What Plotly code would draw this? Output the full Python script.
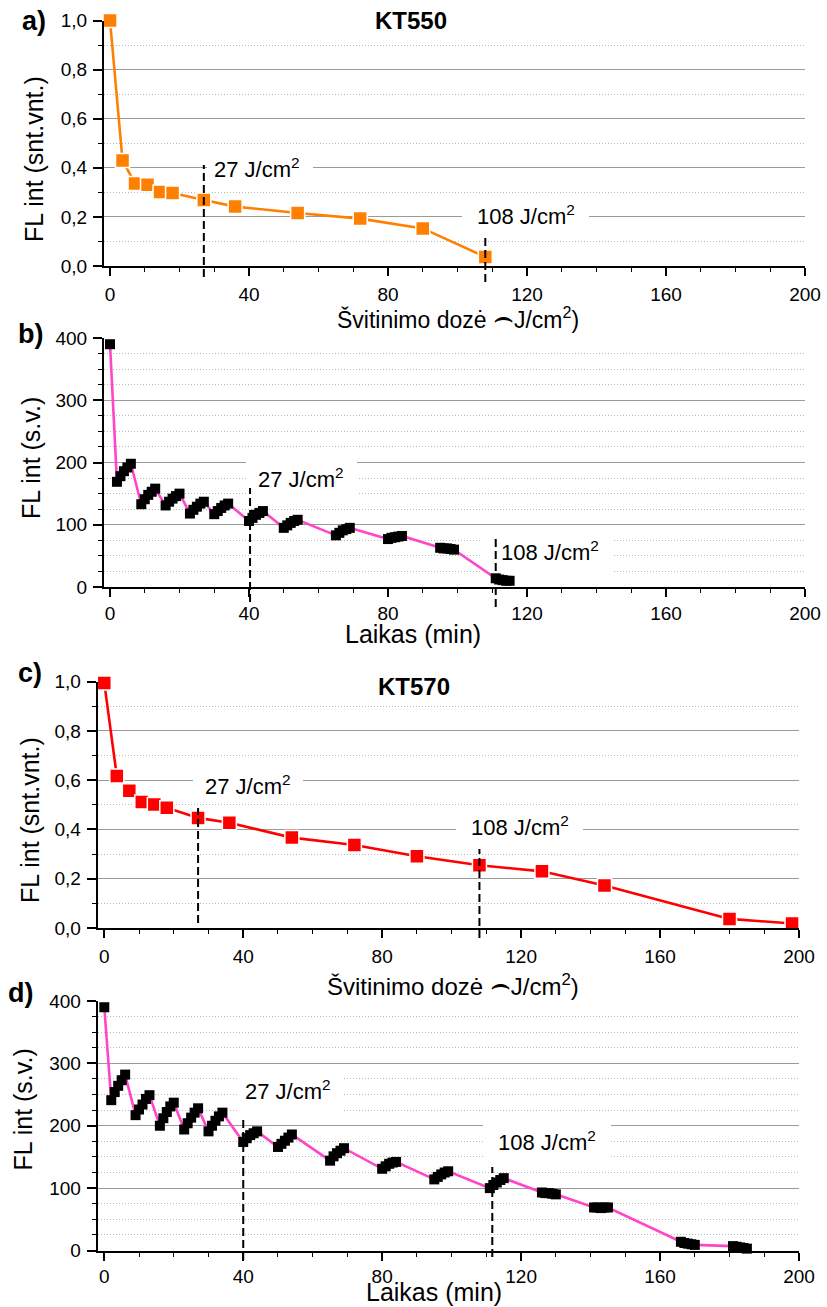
import plotly.graph_objects as go

W, H = 827, 1307

# ---------------- data ----------------
dose_a = [0, 3.6, 7.2, 10.8, 14.4, 18, 27, 36, 54, 72, 90, 108]
fl_a = [1.0, 0.43, 0.336, 0.331, 0.301, 0.297, 0.269, 0.242, 0.216, 0.193, 0.153, 0.037]

time_b = [0,
          2, 3, 4, 5, 6,
          9, 10, 11, 12, 13,
          16, 17, 18, 19, 20,
          23, 24, 25, 26, 27,
          30, 31, 32, 33, 34,
          40, 41, 42, 43, 44,
          50, 51, 52, 53, 54,
          65, 66, 67, 68, 69,
          80, 81, 82, 83, 84,
          95, 96, 97, 98, 99,
          111, 112, 113, 114, 115]
fl_b = [390,
        169, 178, 186, 192, 198,
        133, 141, 148, 153, 158,
        131, 137, 142, 146, 150,
        118, 124, 129, 134, 137,
        117, 122, 127, 131, 134,
        106, 111, 116, 119, 122,
        95, 99, 103, 106, 108,
        83, 87, 91, 93, 95,
        77, 79, 80, 81, 82,
        63, 62, 62, 61, 60,
        14, 12, 11, 10, 10]

dose_c = [0, 3.6, 7.2, 10.8, 14.4, 18, 27, 36, 54, 72, 90, 108, 126, 144, 180, 198]
fl_c = [0.995, 0.617, 0.557, 0.512, 0.501, 0.488, 0.447, 0.427, 0.367, 0.337,
        0.291, 0.255, 0.230, 0.173, 0.037, 0.018]

time_d = [0,
          2, 3, 4, 5, 6,
          9, 10, 11, 12, 13,
          16, 17, 18, 19, 20,
          23, 24, 25, 26, 27,
          30, 31, 32, 33, 34,
          40, 41, 42, 43, 44,
          50, 51, 52, 53, 54,
          65, 66, 67, 68, 69,
          80, 81, 82, 83, 84,
          95, 96, 97, 98, 99,
          111, 112, 113, 114, 115,
          126, 127, 128, 129, 130,
          141, 142, 143, 144, 145,
          166, 167, 168, 169, 170,
          181, 182, 183, 184, 185]
fl_d = [390,
        241, 254, 264, 273, 282,
        217, 226, 234, 243, 249,
        200, 212, 222, 231, 237,
        194, 204, 213, 221, 228,
        191, 200, 208, 215, 221,
        174, 180, 185, 188, 191,
        166, 171, 176, 181, 186,
        144, 151, 156, 160, 164,
        131, 135, 139, 141, 142,
        114, 118, 122, 125, 127,
        100, 105, 109, 113, 116,
        93, 92, 92, 91, 90,
        69, 69, 68, 69, 69,
        14, 12, 11, 10, 9,
        7, 6, 5, 4, 3]

dose_marks = [27, 108]
time_marks_b = [40.3, 111]
time_marks_d = [40, 111.7]
dose_labels = ["27 J/cm<sup>2</sup>", "108 J/cm<sup>2</sup>"]

x_tick_vals = [0, 40, 80, 120, 160, 200]

FONT = "Liberation Sans, Arial, sans-serif"
ORANGE = "#FF8000"
RED = "#FF0000"
PINK = "#FF45C8"
GRID = "#9a9a9a"
MINOR_GRID = "#b8b8b8"

# panel geometry in pixels (left, right, top, bottom) and ranges
panels = [
    dict(key="", x0=104, x1=805, y0=20.5, y1=266, xr=[-1.73, 200], yr=[0, 1.0], frac=True, xso=2),
    dict(key="2", x0=104, x1=805, y0=338, y1=587, xr=[-1.73, 200], yr=[0, 400], frac=False, xso=0),
    dict(key="3", x0=97.7, x1=799, y0=681.7, y1=928, xr=[-1.9, 200], yr=[0, 1.0], frac=True, xso=2),
    dict(key="4", x0=97.7, x1=799, y0=1001, y1=1250.5, xr=[-1.9, 200], yr=[0, 400], frac=False, xso=0),
]


def px2x(p, px):
    return p["xr"][0] + (px - p["x0"]) / (p["x1"] - p["x0"]) * (p["xr"][1] - p["xr"][0])


def px2y(p, py):
    return p["yr"][0] + (p["y1"] - py) / (p["y1"] - p["y0"]) * (p["yr"][1] - p["yr"][0])


fig = go.Figure()

# traces
series = [
    (dose_a, fl_a, ORANGE, ORANGE, 14, 1.5, "white"),
    (time_b, fl_b, PINK, "black", 10, 0, "black"),
    (dose_c, fl_c, RED, RED, 14, 1.5, "white"),
    (time_d, fl_d, PINK, "black", 10, 0, "black"),
]
for p, (xs, ys, lc, mc, ms, mlw, mlc) in zip(panels, series):
    fig.add_trace(go.Scatter(
        x=xs, y=ys, mode="lines+markers",
        line=dict(color=lc, width=2.6),
        marker=dict(symbol="square", size=ms, color=mc, line=dict(color=mlc, width=mlw)),
        xaxis="x" + p["key"], yaxis="y" + p["key"], cliponaxis=False, showlegend=False,
    ))

layout_axes = {}
for p in panels:
    k = p["key"]
    xa = dict(
        domain=[p["x0"] / W, p["x1"] / W], range=p["xr"], anchor="y" + k,
        showline=True, linecolor="black", linewidth=2, mirror=False,
        ticks="outside", ticklen=8, tickwidth=1.6, tickcolor="black",
        tickvals=x_tick_vals, showgrid=False, zeroline=False,
        ticklabelstandoff=p["xso"],
        tickfont=dict(family=FONT, size=19, color="black"),
        minor=dict(dtick=10, tick0=0, ticks="outside", ticklen=4, tickwidth=1.4,
                   tickcolor="black", showgrid=False),
    )
    if p["frac"]:
        dt, mdt, fmt = 0.2, 0.1, ".1f"
    else:
        dt, mdt, fmt = 100, 25, "d"
    ya = dict(
        domain=[1 - p["y1"] / H, 1 - p["y0"] / H], range=p["yr"], anchor="x" + k,
        showline=True, linecolor="black", linewidth=2, mirror=False,
        ticks="outside", ticklen=9, tickwidth=1.6, tickcolor="black",
        dtick=dt, tick0=0, tickformat=fmt, zeroline=False,
        showgrid=True, gridcolor=GRID, gridwidth=1,
        ticklabelstandoff=2,
        tickfont=dict(family=FONT, size=19, color="black"),
        minor=dict(dtick=mdt, tick0=0, ticks="outside", ticklen=4, tickwidth=1.4,
                   tickcolor="black", showgrid=True, gridcolor=MINOR_GRID,
                   griddash="1px,2px", gridwidth=1),
    )
    layout_axes["xaxis" + k] = xa
    layout_axes["yaxis" + k] = ya

shapes = []
annotations = []


def gap_box(p, xl, xr_, yt, yb):
    k = p["key"]
    shapes.append(dict(type="rect", xref="x" + k, yref="y" + k, layer="between",
                       x0=px2x(p, xl), x1=px2x(p, xr_), y0=px2y(p, yb), y1=px2y(p, yt),
                       fillcolor="white", line=dict(width=0)))


def vdash(p, xval, yt, yb):
    k = p["key"]
    shapes.append(dict(type="line", xref="x" + k, yref="paper", layer="above",
                       x0=xval, x1=xval, y0=1 - yb / H, y1=1 - yt / H,
                       line=dict(color="black", width=2, dash="8px,4px")))


def text(px, py, s, size, bold=False, angle=0, yanchor="middle"):
    annotations.append(dict(
        xref="paper", yref="paper", x=px / W, y=1 - py / H, text=("<b>%s</b>" % s) if bold else s,
        showarrow=False, xanchor="center", yanchor=yanchor, textangle=angle,
        font=dict(family=FONT, size=size, color="black")))


pa, pb, pc, pd = panels

# gaps in gridlines behind labels
gap_box(pa, 365, 458, 8, 34)
gap_box(pa, 207, 313, 155, 185)
gap_box(pa, 462, 589, 204, 232)
gap_box(pb, 246, 357, 455, 503)
gap_box(pb, 480, 612, 530, 577)
gap_box(pc, 368, 462, 670, 700)
gap_box(pc, 193, 303, 766, 803)
gap_box(pc, 456, 583, 810, 848)
gap_box(pd, 237, 342, 1066, 1116)
gap_box(pd, 483, 611, 1118, 1166)

# dashed dose markers
vdash(pa, dose_marks[0], 165, 277)
vdash(pa, dose_marks[1], 237, 282)
vdash(pb, time_marks_b[0], 488, 602)
vdash(pb, time_marks_b[1], 538, 607)
vdash(pc, dose_marks[0], 808, 923)
vdash(pc, dose_marks[1], 849, 938)
vdash(pd, time_marks_d[0], 1119, 1260)
vdash(pd, time_marks_d[1], 1167, 1257)

# dose labels (sup makes block taller -> shift up a little)
SUP = 2
text(257, 170 - SUP, dose_labels[0], 22)
text(526, 217 - SUP, dose_labels[1], 22)
text(301, 480 - SUP, dose_labels[0], 22)
text(550, 553 - SUP, dose_labels[1], 22)
text(248.5, 787 - SUP, dose_labels[0], 22)
text(520, 828 - SUP, dose_labels[1], 22)
text(287.5, 1092 - SUP, dose_labels[0], 22)
text(547, 1143 - SUP, dose_labels[1], 22)

# series names
text(411, 21, "KT550", 24, bold=True)
text(414, 686, "KT570", 24, bold=True)

# panel letters
text(34, 21, "a)", 27, bold=True)
text(30, 334, "b)", 27, bold=True)
text(30, 673, "c)", 27, bold=True)
text(20, 993, "d)", 27, bold=True)

# axis titles
dose_title = "Švitinimo dozė <span style=\"font-size:32px\">⌢</span>J/cm<sup>2</sup>)"
time_title = "Laikas (min)"
text(458, 317, dose_title, 23)
text(413, 634, time_title, 25)
text(453, 984, dose_title, 24)
text(434, 1308, time_title, 25, yanchor="bottom")
text(33.5, 159.5, "FL int (snt.vnt.)", 25, angle=-90)
text(31, 458, "FL int (s.v.)", 25, angle=-90)
text(30, 820, "FL int (snt.vnt.)", 25, angle=-90)
text(22.5, 1110, "FL int (s.v.)", 25, angle=-90)

fig.update_layout(
    width=W, height=H, margin=dict(l=0, r=0, t=0, b=0, autoexpand=False),
    paper_bgcolor="white", plot_bgcolor="white",
    separators=",.",
    font=dict(family=FONT, color="black"),
    shapes=shapes, annotations=annotations,
    **layout_axes,
)

fig.write_html("out.html")
